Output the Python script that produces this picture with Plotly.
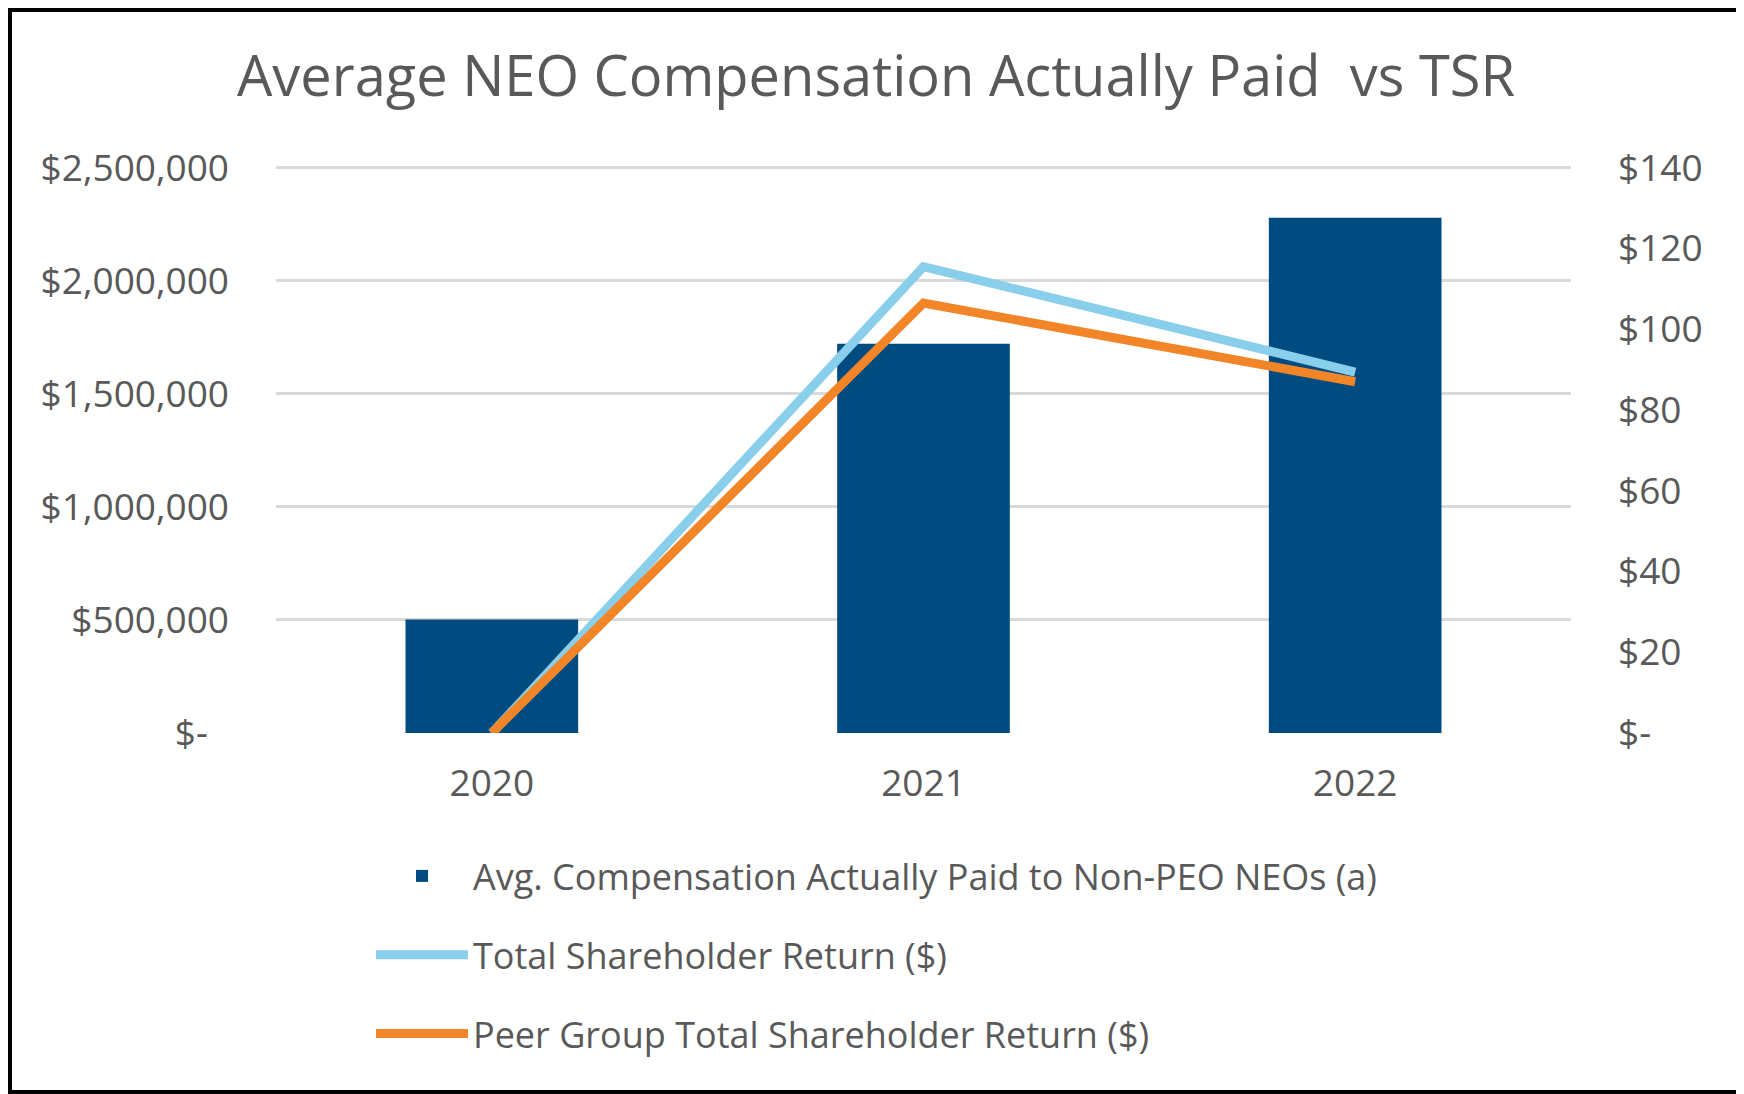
import plotly.graph_objects as go

years = ["2020", "2021", "2022"]
avg_comp = [502000, 1721000, 2279000]
tsr = [0, 115.5, 89.4]
peer_tsr = [0, 106.5, 87.0]

left_ticks = [0, 500000, 1000000, 1500000, 2000000, 2500000]
left_text = ["$-\u2007", "$500,000", "$1,000,000", "$1,500,000", "$2,000,000", "$2,500,000"]
right_ticks = [0, 20, 40, 60, 80, 100, 120, 140]
right_text = ["$-", "$20", "$40", "$60", "$80", "$100", "$120", "$140"]

LEFT_MAX = 2512000
RIGHT_MAX = 140 * LEFT_MAX / 2500000

# page body has an 8px default margin, so the figure is 8px smaller than the window
W, H = 1736, 1086
ML, MR, MT, MB = 268, 173, 157, 361
PW, PH = W - ML - MR, H - MT - MB

FONT = "Open Sans"
TXT = "#595959"

fig = go.Figure()
fig.add_trace(go.Bar(
    x=years, y=avg_comp, name="Avg. Compensation Actually Paid to Non-PEO NEOs (a)",
    marker=dict(color="#004B80", line=dict(width=0)), legendgroup="a", yaxis="y",
))
fig.add_trace(go.Scatter(
    x=years, y=tsr, name="Total Shareholder Return ($)", mode="lines",
    line=dict(color="#89CEEB", width=9), legendgroup="b", yaxis="y2",
))
fig.add_trace(go.Scatter(
    x=years, y=peer_tsr, name="Peer Group Total Shareholder Return ($)", mode="lines",
    line=dict(color="#F28528", width=9), legendgroup="c", yaxis="y2",
))

# outer frame
def px_to_paper_x(px):
    return (px - ML) / PW

def px_to_paper_y(py):
    return (H - MB - py) / PH

fig.add_shape(type="rect", xref="paper", yref="paper",
              x0=px_to_paper_x(2), x1=px_to_paper_x(W - 2),
              y0=px_to_paper_y(H - 2), y1=px_to_paper_y(2),
              line=dict(color="black", width=4), fillcolor="rgba(0,0,0,0)", layer="above")

fig.update_layout(
    width=W, height=H,
    margin=dict(l=ML, r=MR, t=MT, b=MB, pad=0, autoexpand=False),
    paper_bgcolor="white", plot_bgcolor="white",
    font=dict(family=FONT, color=TXT, size=37),
    title=dict(text="Average NEO Compensation Actually Paid  vs TSR",
               x=0.5, xanchor="center", xref="container",
               y=1 - 68 / H, yanchor="middle", yref="container",
               font=dict(family=FONT, size=56, color=TXT)),
    bargap=0.6,
    xaxis=dict(type="category", showgrid=False, showline=False, zeroline=False,
               ticks="", tickfont=dict(size=37, color=TXT), ticklabelstandoff=25),
    yaxis=dict(range=[0, LEFT_MAX], tickvals=left_ticks, ticktext=left_text,
               showgrid=True, gridcolor="#D9D9D9", gridwidth=2.5, zeroline=False,
               showline=False, ticks="", tickfont=dict(size=37, color=TXT),
               ticklabelstandoff=46),
    yaxis2=dict(range=[0, RIGHT_MAX], tickvals=right_ticks, ticktext=right_text,
                overlaying="y", side="right", showgrid=False, zeroline=False,
                showline=False, ticks="", tickfont=dict(size=37, color=TXT),
                ticklabelstandoff=46),
    showlegend=True,
    legend=dict(orientation="v", xref="container", yref="container",
                x=363 / W, xanchor="left", y=1 - 838 / H, yanchor="top",
                font=dict(size=36, color=TXT), tracegroupgap=29,
                bgcolor="rgba(0,0,0,0)", itemwidth=92, traceorder="grouped"),
)

fig.write_html("out.html")
